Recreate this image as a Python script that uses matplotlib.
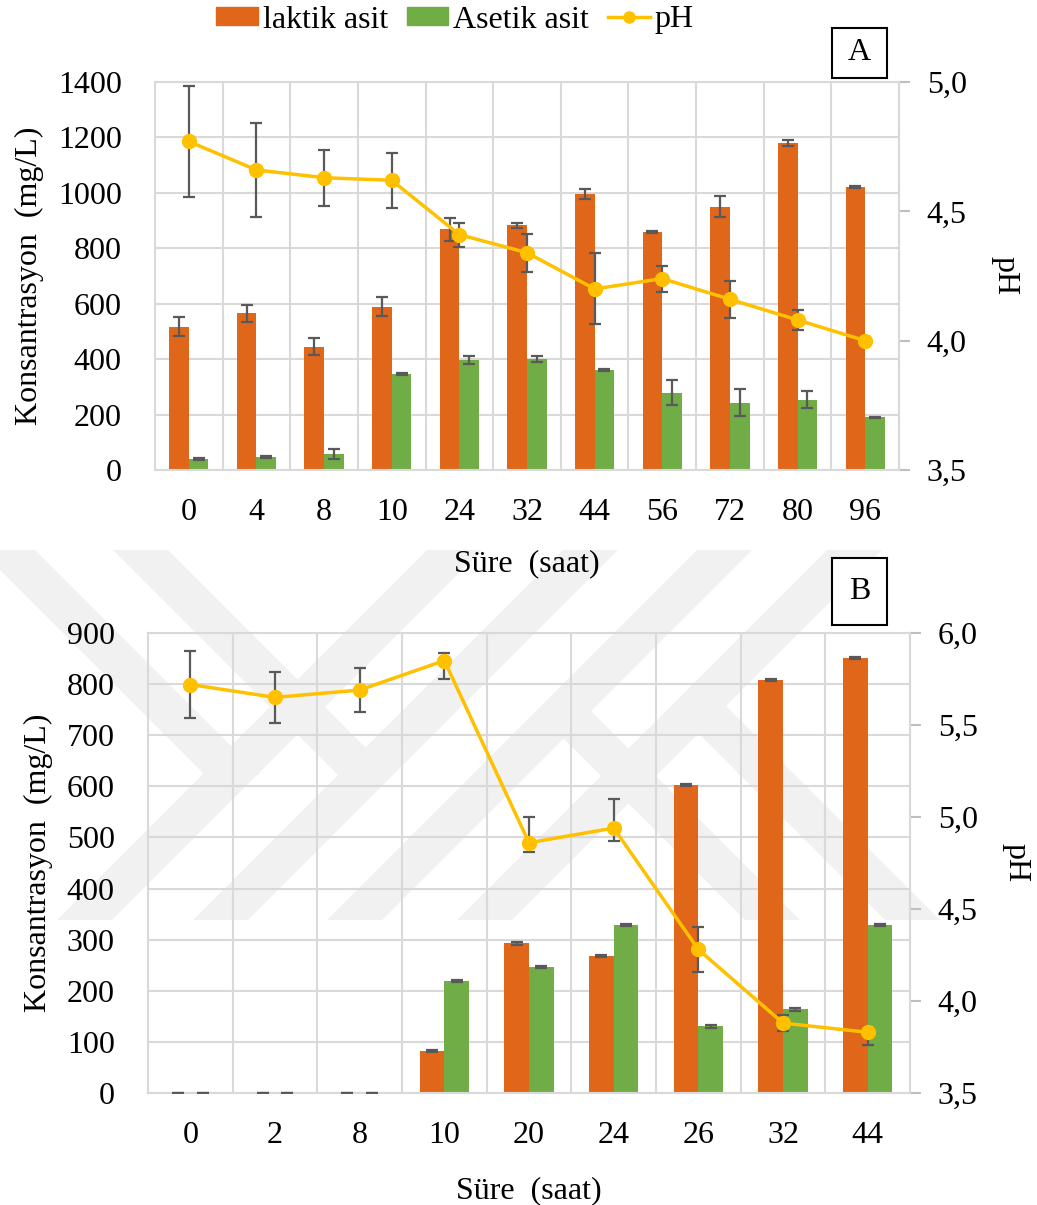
import numpy as np
import matplotlib
matplotlib.use('Agg')
import matplotlib.pyplot as plt
from matplotlib.patches import Patch, Rectangle, Polygon
from matplotlib.lines import Line2D
from matplotlib.ticker import MultipleLocator, FuncFormatter

plt.rcParams['font.family'] = ['Liberation Serif', 'DejaVu Serif']
plt.rcParams['font.size'] = 23

# Panel A data
times_a = ['0', '4', '8', '10', '24', '32', '44', '56', '72', '80', '96']
lactic_a = [517, 565, 445, 589, 868, 883, 995, 860, 950, 1179, 1022]
lactic_a_err = [35, 30, 30, 35, 42, 9, 18, 4, 37, 10, 4]
acetic_a = [40, 48, 58, 346, 397, 401, 361, 279, 243, 253, 190]
acetic_a_err = [3, 3, 19, 3, 16, 10, 3, 45, 48, 31, 3]
ph_a = [4.77, 4.66, 4.63, 4.62, 4.41, 4.34, 4.20, 4.24, 4.16, 4.08, 4.00]
ph_a_err = [0.215, 0.18, 0.108, 0.107, 0.046, 0.073, 0.137, 0.05, 0.071, 0.039, 0.0]

# Panel B data
times_b = ['0', '2', '8', '10', '20', '24', '26', '32', '44']
lactic_b = [0, 0, 0, 82, 293, 268, 603, 808, 852]
lactic_b_err = [0, 0, 0, 2, 3, 2, 2, 2, 2]
acetic_b = [0, 0, 0, 220, 247, 329, 131, 164, 329]
acetic_b_err = [0, 0, 0, 2, 2, 2, 3, 3, 2]
ph_b = [5.72, 5.65, 5.69, 5.85, 4.86, 4.94, 4.28, 3.88, 3.83]
ph_b_lo = [0.18, 0.14, 0.12, 0.10, 0.05, 0.07, 0.12, 0.045, 0.07]
ph_b_hi = [0.18, 0.14, 0.12, 0.04, 0.14, 0.16, 0.12, 0.045, 0.0]

ORANGE = '#E0661A'
GREEN = '#70AD47'
GOLD = '#FFC000'
ERR = '#595959'
GRID = '#D9D9D9'
MARK = '#F1F1F1'

W, H = 1037, 1205
fig = plt.figure(figsize=(W / 100, H / 100), dpi=100)


def px_axes(l, t, r, b):
    return fig.add_axes([l / W, 1 - b / H, (r - l) / W, (b - t) / H])


def fig_poly(pts):
    # pixel coords -> figure fraction, drawn behind the axes
    fig.patches.append(Polygon([(x / W, 1 - y / H) for x, y in pts], closed=True,
                               transform=fig.transFigure, fc=MARK, ec='none',
                               zorder=-5))


# faint background watermark stripes
y_top, y_bot, sw = 550, 920, 55
for b in [57, 193, 327, 457]:
    d = y_bot - y_top
    fig_poly([(b, y_bot), (b + sw, y_bot), (b + sw + d, y_top), (b + d, y_top)])
for t in [-20, 113]:
    fig_poly([(t, y_top), (t + sw, y_top), (t + sw + 225, 775), (t + 225, 775)])
for b, yc in [(745, 711), (885, 706)]:
    d = y_bot - yc
    fig_poly([(b, y_bot), (b + sw, y_bot), (b + sw - d, yc), (b - d, yc)])

comma = FuncFormatter(lambda v, p: f'{v:.1f}'.replace('.', ','))


def panel(ax, cats, lac, lac_e, ace, ace_e, ph, ph_e, ymax, ystep, phmin, phmax, xpad):
    n = len(cats)
    x = np.arange(n)
    bw = 0.29
    ax.set_facecolor('none')
    ax.bar(x - bw / 2, lac, bw, color=ORANGE, zorder=2)
    ax.bar(x + bw / 2, ace, bw, color=GREEN, zorder=2)
    ekw = dict(fmt='none', ecolor=ERR, elinewidth=1.6, capsize=4, capthick=1.6, zorder=3)
    ax.errorbar(x - bw / 2, lac, yerr=lac_e, **ekw)
    ax.errorbar(x + bw / 2, ace, yerr=ace_e, **ekw)
    ax.set_xlim(-0.5, n - 0.5)
    ax.set_ylim(0, ymax)
    ax.yaxis.set_major_locator(MultipleLocator(ystep))
    ax.set_xticks(x)
    ax.set_xticklabels(cats)
    ax.set_xticks(np.arange(n - 1) + 0.5, minor=True)
    ax.grid(True, axis='y', which='major', color=GRID, lw=1.5, zorder=0)
    ax.grid(True, axis='x', which='minor', color=GRID, lw=1.5, zorder=0)
    ax.tick_params(axis='both', which='both', length=0)
    ax.tick_params(axis='y', pad=24)
    ax.tick_params(axis='x', pad=20)
    for s in ax.spines.values():
        s.set_color(GRID)
        s.set_linewidth(1.5)
    ax.set_axisbelow(True)
    ax.set_xlabel('Süre  (saat)', labelpad=xpad)
    ax.set_ylabel('Konsantrasyon  (mg/L)', labelpad=10)

    ax2 = ax.twinx()
    ax2.errorbar(x, ph, yerr=ph_e, fmt='none', ecolor=ERR, elinewidth=1.6,
                 capsize=4, capthick=1.6, zorder=2)
    ax2.plot(x, ph, color=GOLD, lw=2.5, marker='o', ms=10, zorder=3)
    ax2.set_ylim(phmin, phmax)
    ax2.yaxis.set_major_locator(MultipleLocator(0.5))
    ax2.yaxis.set_major_formatter(comma)
    ax2.tick_params(axis='y', length=8, width=1.5, color='#BFBFBF', pad=12)
    for s in ax2.spines.values():
        s.set_visible(False)
    ax2.spines['right'].set_visible(True)
    ax2.spines['right'].set_color(GRID)
    ax2.spines['right'].set_linewidth(1.5)
    ax2.set_ylabel('pH', rotation=270, labelpad=38)
    return ax2


axA = px_axes(155, 82, 899, 470)
panel(axA, times_a, lactic_a, lactic_a_err, acetic_a, acetic_a_err,
      ph_a, ph_a_err, 1400, 200, 3.5, 5.0, 16)

axB = px_axes(148, 633, 910, 1093)
panel(axB, times_b, lactic_b, lactic_b_err, acetic_b, acetic_b_err,
      ph_b, [ph_b_lo, ph_b_hi], 900, 100, 3.5, 6.0, 19)

# panel letters in boxes
for lab, (l, t, r, b) in [('A', (832, 28, 887, 78)), ('B', (832, 558, 887, 625))]:
    fig.patches.append(Rectangle((l / W, 1 - b / H), (r - l) / W, (b - t) / H,
                                 transform=fig.transFigure, fc='white',
                                 ec='black', lw=1.5, zorder=2))
    fig.text((l + r) / 2 / W, 1 - (t + b) / 2 / H, lab, ha='center', va='center',
             zorder=3)

handles = [Patch(color=ORANGE), Patch(color=GREEN),
           Line2D([], [], color=GOLD, lw=2.5, marker='o', ms=8)]
fig.legend(handles, ['laktik asit', 'Asetik asit', 'pH'], loc='center',
           bbox_to_anchor=(455 / W, 1 - 20 / H), ncol=3, frameon=False,
           handlelength=1.3, handleheight=0.5, handletextpad=0.15,
           columnspacing=0.6, borderaxespad=0)

fig.savefig('out.png', dpi=100)
